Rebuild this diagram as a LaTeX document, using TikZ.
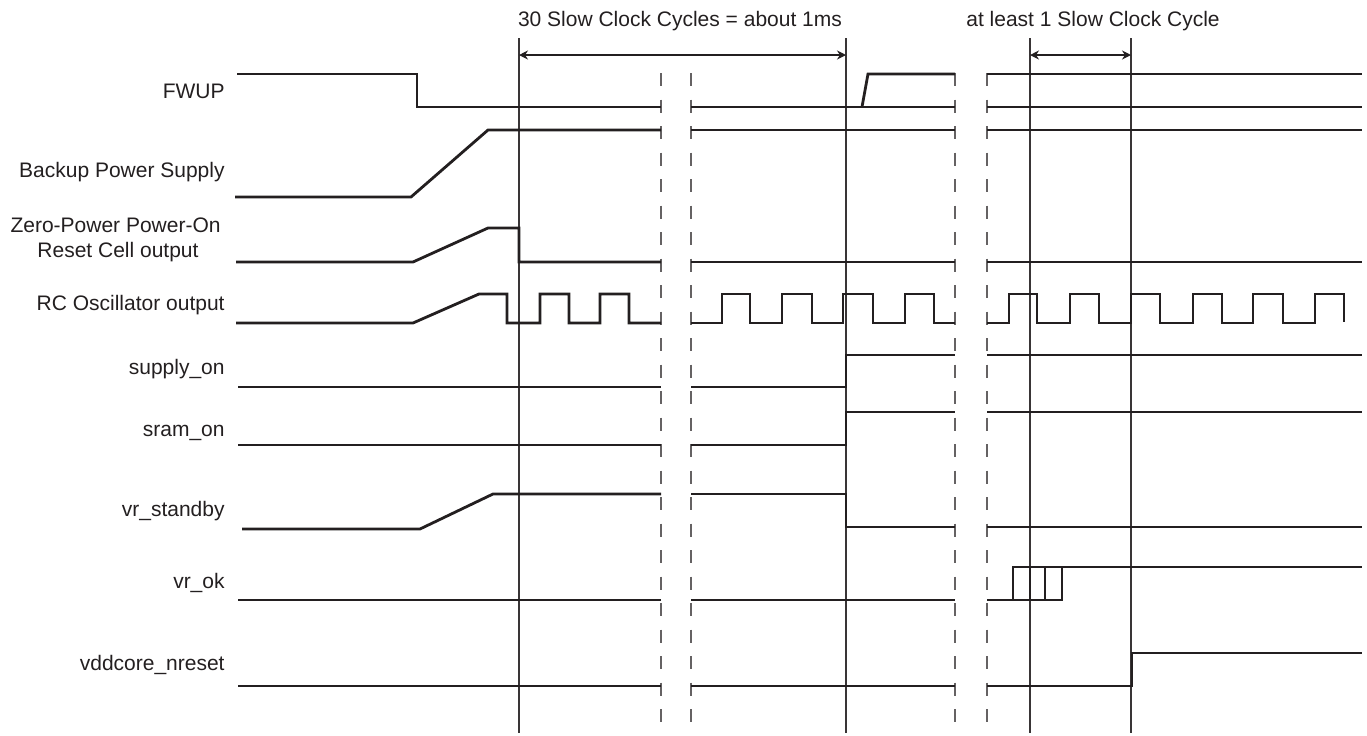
\documentclass[tikz,border=0pt]{standalone}
\usepackage{fontspec}
\setmainfont{Liberation Sans}
\usetikzlibrary{arrows.meta}
\definecolor{ink}{HTML}{231F20}
\begin{document}
\begin{tikzpicture}[x=0.5pt,y=-0.5pt,
  sig/.style={draw=ink,line width=1.4pt,line join=miter,line cap=butt},
  guide/.style={draw=ink!90,line width=0.6pt},
  brk/.style={draw=ink!70,line width=0.7pt,dash pattern=on 6.5pt off 6.75pt},
  lbl/.style={font=\fontsize{10.5}{12.5}\selectfont,text=ink,inner sep=0pt},
  dim/.style={draw=ink,line width=0.6pt,{Stealth[length=4.5pt,width=4.5pt]}-{Stealth[length=4.5pt,width=4.5pt]}}]
\useasboundingbox (0,0) rectangle (1367,735);

% ---- labels ----
\node[lbl,anchor=base east] (lfwup) at (225,98) {FWUP};
\node[lbl,anchor=base east] (lbackup) at (225,177) {Backup Power Supply};
\node[lbl,anchor=base east] (lzero1) at (221,232) {Zero-Power Power-On};
\node[lbl,anchor=base] (lzero2) at (118,257) {Reset Cell output};
\node[lbl,anchor=base east] (lrc) at (225,310) {RC Oscillator output};
\node[lbl,anchor=base east] (lsupply) at (225,374) {supply\_on};
\node[lbl,anchor=base east] (lsram) at (225,436) {sram\_on};
\node[lbl,anchor=base east] (lvrs) at (225,516) {vr\_standby};
\node[lbl,anchor=base east] (lvrok) at (225,588) {vr\_ok};
\node[lbl,anchor=base east] (lnreset) at (225,670) {vddcore\_nreset};
\node[lbl,anchor=base] (t30) at (680,26) {30 Slow Clock Cycles = about 1ms};
\node[lbl,anchor=base] (t1) at (1093,26) {at least 1 Slow Clock Cycle};

% ---- guide lines ----
\foreach \x/\n in {519/g1,846/g2,1030/g3,1131/g4}{
  \coordinate (\n t) at (\x,38);
  \coordinate (\n b) at (\x,733);
  \draw[guide] (\n t) -- (\n b);
}
\foreach \x/\n in {661/d1,691/d2,955/d3,987/d4}{
  \coordinate (\n t) at (\x,73);
  \coordinate (\n b) at (\x,730);
  \draw[brk] (\n t) -- (\n b);
}

% ---- dimension arrows ----
\coordinate (a1) at (519,55); \coordinate (a2) at (846,55);
\coordinate (b1) at (1030,55); \coordinate (b2) at (1131,55);
\draw[dim] (a1) -- (a2);
\draw[dim] (b1) -- (b2);

% ---- FWUP ----
\draw[sig] (237,74) -- (417,74) -- (417,107) -- (661,107);
\draw[sig] (691,107) -- (955,107);
\draw[sig] (862,107) -- (868,74) -- (955,74);
\draw[sig] (987,74) -- (1362,74);
\draw[sig] (987,107) -- (1362,107);

% ---- Backup Power Supply ----
\draw[sig] (235,197) -- (411,197) -- (488,130) -- (661,130);
\draw[sig] (691,130) -- (955,130);
\draw[sig] (987,130) -- (1362,130);

% ---- Zero-Power POR ----
\draw[sig] (236,262) -- (413,262) -- (488,228) -- (519,228) -- (519,262) -- (661,262);
\draw[sig] (691,262) -- (955,262);
\draw[sig] (987,262) -- (1362,262);

% ---- RC oscillator ----
\draw[sig] (236,323) -- (413,323) -- (479,294) -- (507,294) -- (507,323) -- (540,323)
  -- (540,294) -- (569,294) -- (569,323) -- (600,323) -- (600,294) -- (629,294)
  -- (629,323) -- (661,323);
\draw[sig] (691,323) -- (722,323) -- (722,294) -- (750,294) -- (750,323) -- (782,323)
  -- (782,294) -- (812,294) -- (812,323) -- (843,323) -- (843,294) -- (873,294)
  -- (873,323) -- (905,323) -- (905,294) -- (934,294) -- (934,323) -- (955,323);
\draw[sig] (987,323) -- (1009,323) -- (1009,294) -- (1037,294) -- (1037,323) -- (1070,323)
  -- (1070,294) -- (1099,294) -- (1099,323) -- (1131,323) -- (1131,294) -- (1160,294)
  -- (1160,323) -- (1193,323) -- (1193,294) -- (1222,294) -- (1222,323) -- (1253,323)
  -- (1253,294) -- (1283,294) -- (1283,323) -- (1315,323) -- (1315,294) -- (1344,294)
  -- (1344,322);

% ---- supply_on ----
\draw[sig] (238,387) -- (661,387);
\draw[sig] (691,387) -- (846,387) -- (846,355) -- (955,355);
\draw[sig] (987,355) -- (1362,355);

% ---- sram_on ----
\draw[sig] (238,445) -- (661,445);
\draw[sig] (691,445) -- (846,445) -- (846,412) -- (955,412);
\draw[sig] (987,412) -- (1362,412);

% ---- vr_standby ----
\draw[sig] (242,529) -- (420,529) -- (493,494) -- (661,494);
\draw[sig] (691,494) -- (846,494) -- (846,527) -- (955,527);
\draw[sig] (987,527) -- (1362,527);

% ---- vr_ok ----
\draw[sig] (238,600) -- (661,600);
\draw[sig] (691,600) -- (955,600);
\draw[sig] (987,600) -- (1062,600) -- (1062,567);
\draw[sig] (1013,600) -- (1013,567) -- (1362,567);
\draw[sig] (1030,600) -- (1030,567);
\draw[sig] (1045,600) -- (1045,567);

% ---- vddcore_nreset ----
\draw[sig] (238,686) -- (661,686);
\draw[sig] (691,686) -- (955,686);
\draw[sig] (987,686) -- (1132,686) -- (1132,653) -- (1362,653);
\end{tikzpicture}
\end{document}
